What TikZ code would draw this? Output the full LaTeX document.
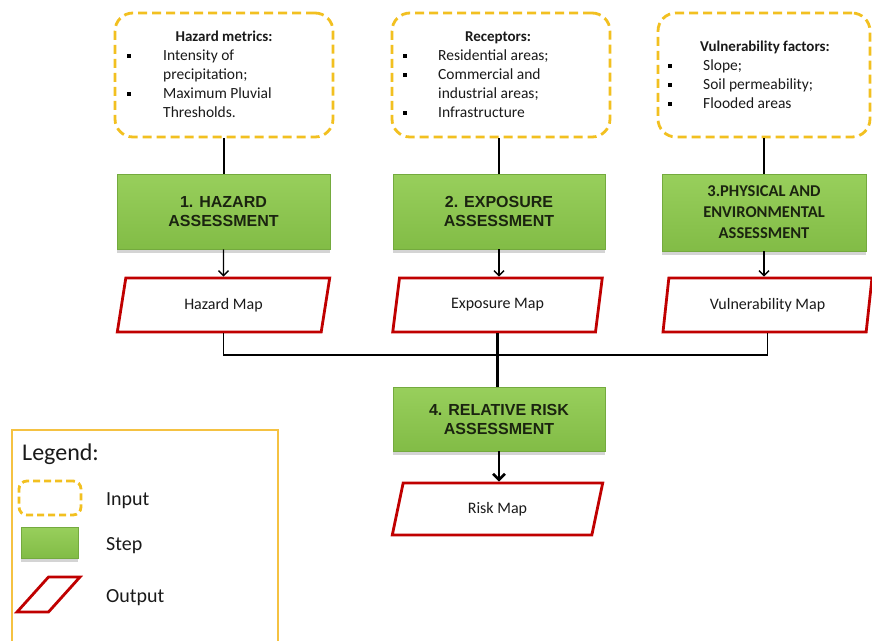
\documentclass[tikz,border=0pt]{standalone}
\usepackage{fontspec}
\setmainfont{Carlito}
\newfontfamily\arialfont{Liberation Sans}
\usetikzlibrary{shapes.geometric,arrows.meta,shadows}

\definecolor{inyellow}{HTML}{F2C020}
\definecolor{legendedge}{HTML}{F5C242}
\definecolor{outred}{HTML}{C00000}
\definecolor{greentop}{HTML}{98CF5C}
\definecolor{greenbot}{HTML}{82BC46}
\definecolor{greenedge}{HTML}{74AA3E}
\definecolor{steptext}{HTML}{1B2410}
\definecolor{bodytext}{HTML}{1A1A1A}

\tikzset{
  inbox/.style={draw=inyellow, line width=2.8pt, dash pattern=on 9pt off 5pt,
    rounded corners=18pt, inner sep=0pt},
  stepbox/.style={draw=greenedge, line width=0.8pt, top color=greentop,
    bottom color=greenbot, inner sep=0pt, text=steptext, align=center,
    drop shadow={shadow xshift=0pt, shadow yshift=-3.5pt, opacity=0.3, fill=black!55}},
  stepfont/.style={font=\arialfont\bfseries\fontsize{16}{19}\selectfont},
  outbox/.style={trapezium, trapezium left angle=76, trapezium right angle=104,
    trapezium stretches=true, draw=outred, line width=2.8pt, fill=white,
    inner sep=0pt, text=bodytext, font=\fontsize{16}{19}\selectfont},
  title/.style={anchor=base, inner sep=0pt, text=bodytext,
    font=\bfseries\fontsize{15}{19}\selectfont},
  item/.style={anchor=base west, inner sep=0pt, text=bodytext,
    font=\fontsize{15.5}{19}\selectfont},
  bul/.style={fill=black, minimum size=4.6pt, inner sep=0pt},
  link/.style={draw=black, line width=1.4pt},
  boldlink/.style={draw=black, line width=2.6pt},
  arr/.style={link, -{Straight Barb[length=5pt,width=10pt]}},
  boldarr/.style={boldlink, -{Straight Barb[length=6pt,width=12pt]}},
  legtext/.style={anchor=base west, inner sep=0pt, text=bodytext,
    font=\fontsize{20}{24}\selectfont}
}

\begin{document}
\begin{tikzpicture}[x=1pt, y=-1pt]
\useasboundingbox (0,0) rectangle (872,640);
\fill[white] (0,0) rectangle (872,640);

% ---- inputs ----
\node[inbox, minimum width=218, minimum height=124] (in1) at (224,75) {};
\node[inbox, minimum width=218, minimum height=124] (in2) at (501,75) {};
\node[inbox, minimum width=212, minimum height=124] (in3) at (764,75) {};

\node[title] (t1) at (224,41) {Hazard metrics:};
\node[bul] (b11) at (129,56) {};
\node[item] (i11) at (163,60) {Intensity of};
\node[item] (i12) at (163,79) {precipitation;};
\node[bul] (b12) at (129,94) {};
\node[item] (i13) at (163,98) {Maximum Pluvial};
\node[item] (i14) at (163,117) {Thresholds.};

\node[title] (t2) at (498,41) {Receptors:};
\node[bul] (b21) at (405,56) {};
\node[item] (i21) at (438,60) {Residential areas;};
\node[bul] (b22) at (405,75) {};
\node[item] (i22) at (438,79) {Commercial and};
\node[item] (i23) at (438,98) {industrial areas;};
\node[bul] (b23) at (405,113) {};
\node[item] (i24) at (438,117) {Infrastructure};

\node[title] (t3) at (765,51) {Vulnerability factors:};
\node[bul] (b31) at (670,66) {};
\node[item] (i31) at (703,70) {Slope;};
\node[bul] (b32) at (670,85) {};
\node[item] (i32) at (703,89) {Soil permeability;};
\node[bul] (b33) at (670,104) {};
\node[item] (i33) at (703,108) {Flooded areas};

% ---- steps ----
\node[stepbox, stepfont, minimum width=213, minimum height=75] (s1) at (223.5,211.5)
  {1. HAZARD\\ASSESSMENT};
\node[stepbox, stepfont, minimum width=212, minimum height=75] (s2) at (499,211.5)
  {2. EXPOSURE\\ASSESSMENT};
\node[stepbox, minimum width=204, minimum height=77,
  font=\bfseries\fontsize{16.5}{21}\selectfont] (s3) at (764,212.5)
  {3.PHYSICAL AND\\ENVIRONMENTAL\\ASSESSMENT};
\node[stepbox, stepfont, minimum width=212, minimum height=64] (s4) at (499,419)
  {4. RELATIVE RISK\\ASSESSMENT};

% ---- outputs ----
\node[outbox, minimum width=213, minimum height=54] (o1) at (223.5,305) {Hazard Map};
\node[outbox, minimum width=211, minimum height=54] (o2) at (497.5,305) {Exposure Map};
\node[outbox, minimum width=209, minimum height=54] (o3) at (767.5,305) {Vulnerability Map};
\node[outbox, minimum width=211, minimum height=52] (o4) at (497.5,509) {Risk Map};

% ---- connectors ----
\draw[link] (in1.south) -- (in1.south |- s1.north);
\draw[link] (in2.south -| s2.north) -- (s2.north);
\draw[link] (in3.south) -- (in3.south |- s3.north);

\draw[arr] (s1.south) -- (o1.north);
\draw[arr] (s2.south) -- (s2.south |- o2.north);
\draw[arr] (s3.south) -- (s3.south |- o3.north);

\coordinate (busY) at (0,355);
\draw[link] (o1.south) -- (o1.south |- busY) -- (o3.south |- busY) -- (o3.south);
\draw[boldlink] (o2.south) -- (o2.south |- s4.north);
\draw[boldarr] (s4.south) -- (s4.south |- o4.north);

% ---- legend ----
\draw[draw=legendedge, line width=2.4pt] (12,650) -- (12,430) -- (278,430) -- (278,650);
\node[anchor=base west, inner sep=0pt, text=bodytext,
  font=\fontsize{24}{28}\selectfont] (legend) at (22,460) {Legend:};
\node[inbox, rounded corners=8pt, dash pattern=on 7pt off 4pt,
  minimum width=62, minimum height=34] (lin) at (50,498) {};
\node[stepbox, minimum width=57, minimum height=31] (lstep) at (49.5,542.5) {};
\node[outbox, trapezium left angle=74, trapezium right angle=106,
  minimum width=63, minimum height=35] (lout) at (48.5,594.5) {\strut};
\node[legtext] (lint) at (106,505) {Input};
\node[legtext] (lstt) at (106,550) {Step};
\node[legtext] (loutt) at (106,602) {Output};
\end{tikzpicture}
\end{document}
